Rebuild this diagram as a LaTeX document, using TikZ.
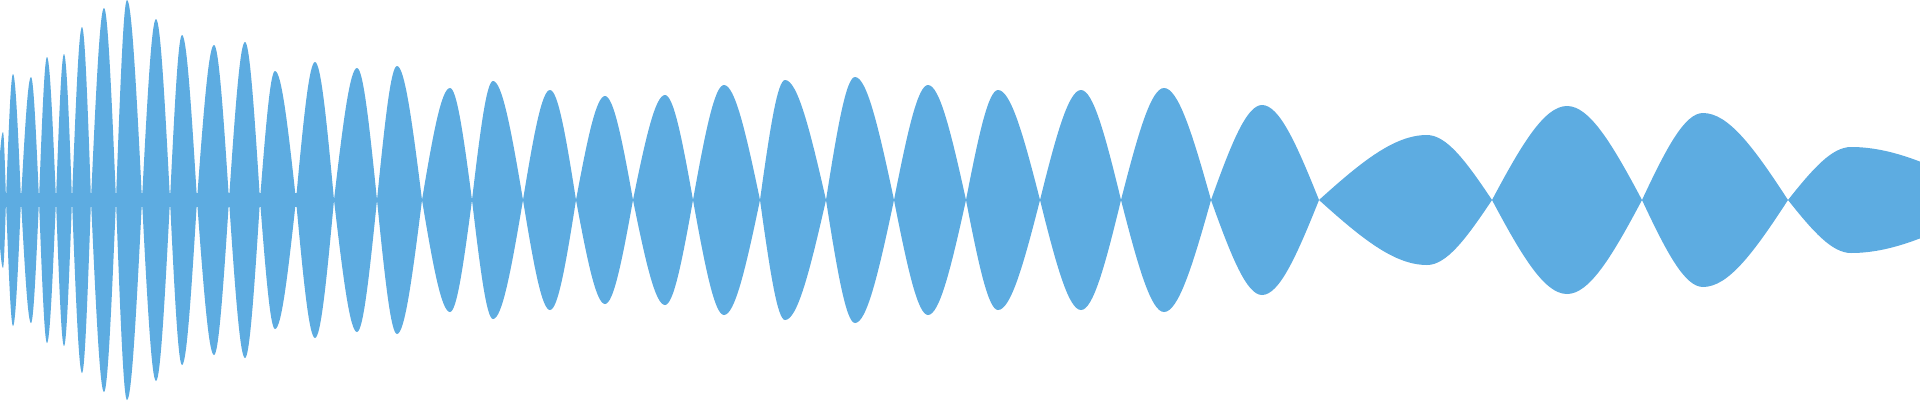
\documentclass[tikz,border=0pt]{standalone}
\definecolor{wave}{HTML}{5DACE1}
\newcommand{\lobe}[4]{%
  \fill[wave] (#1,200) .. controls ({#1+0.4*(#2-#1)},{200-0.6*(200-#4)}) and ({#2-0.3*(#2-#1)},#4) .. (#2,#4)
    .. controls ({#2+0.3*(#3-#2)},#4) and ({#3-0.4*(#3-#2)},{200-0.6*(200-#4)}) .. (#3,200)
    .. controls ({#3-0.4*(#3-#2)},{200+0.6*(200-#4)}) and ({#2+0.3*(#3-#2)},{400-#4}) .. (#2,{400-#4})
    .. controls ({#2-0.3*(#2-#1)},{400-#4}) and ({#1+0.4*(#2-#1)},{200+0.6*(200-#4)}) .. (#1,200) -- cycle;}
\begin{document}
\begin{tikzpicture}[x=1pt,y=-1pt]
\useasboundingbox (0,0) rectangle (1920,400);
\clip (0,0) rectangle (1920,400);
\fill[wave] (0,193) rectangle (300,207);
\foreach \a/\p/\b/\h in {-3/3/6/132,6/13/21/74,21/31/39/77,39/47/56/57,56/64/72/54,72/82/91/27,91/104/116/8,116/127/142/0,142/156/170/19,170/182/197/35,197/214/229/45,229/245/260/42,260/275/296/71,296/315/334/62,334/357/377/68,377/397/422/66,422/450/472/88,472/493/523/81,523/550/576/90,576/605/633/96,633/665/693/95,693/724/760/85,760/785/826/80,826/855/894/77,894/928/966/85,966/998/1040/90,1040/1081/1121/90,1121/1164/1211/88,1211/1262/1319/105,1319/1427/1492/135,1492/1567/1642/106,1642/1703/1788/113,1788/1851/2000/147}
  {\lobe{\a}{\p}{\b}{\h}}
\end{tikzpicture}
\end{document}
